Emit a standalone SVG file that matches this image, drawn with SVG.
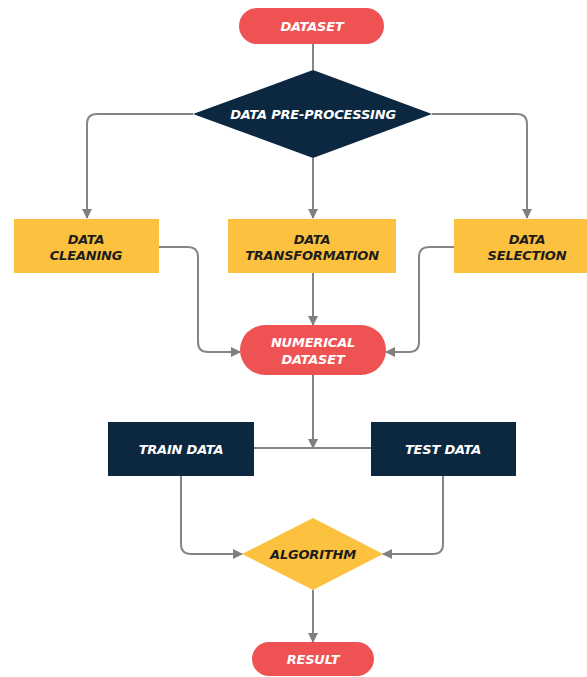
<svg xmlns="http://www.w3.org/2000/svg" width="587" height="677" viewBox="0 0 587 677">
<defs>
<marker id="arr" viewBox="0 0 10 10" refX="9" refY="5" markerWidth="10" markerHeight="10" markerUnits="userSpaceOnUse" orient="auto">
<path d="M0,0 L10,5 L0,10 z" fill="#7f7f7f"/>
</marker>
<style>
.ln{fill:none;stroke:#858585;stroke-width:2;}
.red{fill:#ef5253;}
.navy{fill:#0c2740;}
.yel{fill:#fcc13e;}
text{font-family:"DejaVu Sans","Liberation Sans",sans-serif;font-style:italic;font-weight:bold;font-size:13px;text-anchor:middle;letter-spacing:-0.2px;}
.w{fill:#ffffff;}
.d{fill:#1d1d1d;}
</style>
</defs>
<rect width="587" height="677" fill="#ffffff"/>
<g id="connectors">
<path class="ln" d="M313,44 V70"/>
<path class="ln" d="M193,114 H97 Q87,114 87,124 V218" marker-end="url(#arr)"/>
<path class="ln" d="M313,158 V218" marker-end="url(#arr)"/>
<path class="ln" d="M432,114 H517 Q527,114 527,124 V218" marker-end="url(#arr)"/>
<path class="ln" d="M159,247 H188 Q198,247 198,257 V342 Q198,352 208,352 H240" marker-end="url(#arr)"/>
<path class="ln" d="M313,273 V325" marker-end="url(#arr)"/>
<path class="ln" d="M454,247 H429 Q419,247 419,257 V342 Q419,352 409,352 H386" marker-end="url(#arr)"/>
<path class="ln" d="M313,375 V448" marker-end="url(#arr)"/>
<path class="ln" d="M254,448 H371"/>
<path class="ln" d="M181,476 V544 Q181,554 191,554 H242" marker-end="url(#arr)"/>
<path class="ln" d="M443,476 V544 Q443,554 433,554 H383" marker-end="url(#arr)"/>
<path class="ln" d="M313,590 V642" marker-end="url(#arr)"/>
</g>
<g id="dataset">
<rect class="red" x="239" y="8" width="145" height="36" rx="18"/>
<text class="w" x="312" y="31">DATASET</text>
</g>
<g id="preprocessing">
<polygon class="navy" points="313,70 432,114 313,158 193,114"/>
<text class="w" x="313" y="119">DATA  PRE-PROCESSING</text>
</g>
<g id="cleaning">
<rect class="yel" x="14" y="219" width="145" height="54"/>
<text class="d" x="86" y="244">DATA</text>
<text class="d" x="86" y="260">CLEANING</text>
</g>
<g id="transformation">
<rect class="yel" x="228" y="219" width="168" height="54"/>
<text class="d" x="312" y="244">DATA</text>
<text class="d" x="312" y="260">TRANSFORMATION</text>
</g>
<g id="selection">
<rect class="yel" x="454" y="219" width="133" height="54"/>
<text class="d" x="527" y="244">DATA</text>
<text class="d" x="527" y="260">SELECTION</text>
</g>
<g id="numerical">
<rect class="red" x="240" y="325" width="146" height="50" rx="25"/>
<text class="w" x="313" y="347">NUMERICAL</text>
<text class="w" x="313" y="364">DATASET</text>
</g>
<g id="train">
<rect class="navy" x="108" y="422" width="146" height="54"/>
<text class="w" x="181" y="454">TRAIN DATA</text>
</g>
<g id="test">
<rect class="navy" x="371" y="422" width="145" height="54"/>
<text class="w" x="443" y="454">TEST DATA</text>
</g>
<g id="algorithm">
<polygon class="yel" points="313,518 383,554 313,590 242,554"/>
<text class="d" x="313" y="559">ALGORITHM</text>
</g>
<g id="result">
<rect class="red" x="252" y="642" width="122" height="34" rx="17"/>
<text class="w" x="313" y="664">RESULT</text>
</g>
</svg>
